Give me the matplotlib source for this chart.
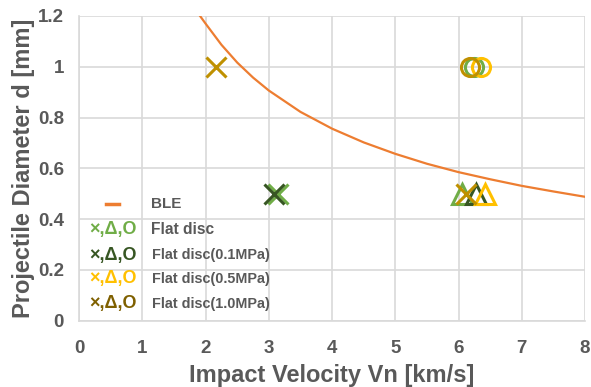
import matplotlib.pyplot as plt

plt.rcParams['font.family'] = ['Liberation Sans', 'DejaVu Sans']

# BLE curve
ble_v = [1.91, 2.0, 2.25, 2.5, 2.75, 3.0, 3.5, 4.0, 4.5, 5.0, 5.5, 6.0, 6.5, 7.0, 7.5, 8.0]
ble_d = [1.20, 1.169, 1.086, 1.016, 0.957, 0.906, 0.822, 0.756, 0.702, 0.657, 0.618, 0.585, 0.557, 0.531, 0.509, 0.488]

# test shots: (velocity, diameter) per condition and marker type
flat_x = [(3.14, 0.5)]
flat_tri = [(6.06, 0.5)]
flat_o = [(6.24, 1.0)]
mpa01_x = [(3.08, 0.5)]
mpa01_tri = [(6.28, 0.5)]
mpa05_tri = [(6.41, 0.5)]
mpa05_o = [(6.35, 1.0)]
mpa10_x = [(2.16, 1.0), (6.12, 0.5)]
mpa10_o = [(6.18, 1.0)]

c_flat = '#70AD47'
c_01 = '#375623'
c_05 = '#FFC000'
c_10 = '#BF9000'
c_10_leg = '#7F6000'
grey = '#595959'

fig, ax = plt.subplots(figsize=(5.91, 3.87), dpi=100)
fig.subplots_adjust(left=0.134, right=0.99, top=0.959, bottom=0.171)

ax.plot(ble_v, ble_d, color='#ED7D31', lw=1.6, zorder=2)

def pts(data, marker, color, size):
    xs = [p[0] for p in data]
    ys = [p[1] for p in data]
    if marker == 'x':
        ax.plot(xs, ys, ls='none', marker='x', ms=size, mew=2.2, color=color, zorder=3)
    else:
        ax.plot(xs, ys, ls='none', marker=marker, ms=size, mew=2.2,
                mfc='none', mec=color, zorder=3)

pts(flat_tri, '^', c_flat, 15)
pts(mpa01_tri, '^', c_01, 15)
pts(mpa05_tri, '^', c_05, 15)
pts(flat_o, 'o', c_flat, 13)
pts(mpa05_o, 'o', c_05, 13)
pts(mpa10_o, 'o', c_10, 13)
pts(flat_x, 'x', c_flat, 15)
pts(mpa01_x, 'x', c_01, 15)
pts(mpa10_x, 'x', c_10, 15)

ax.set_xlim(0, 8)
ax.set_ylim(0, 1.2)
ax.set_xticks(range(0, 9))
ax.set_yticks([0, 0.2, 0.4, 0.6, 0.8, 1.0, 1.2])
ax.set_yticklabels(['0', '0.2', '0.4', '0.6', '0.8', '1', '1.2'])
ax.grid(True, color='#D9D9D9', lw=1.2)
ax.set_axisbelow(True)
for s in ['top', 'right']:
    ax.spines[s].set_visible(False)
for s in ['left', 'bottom']:
    ax.spines[s].set_color('#D9D9D9')
    ax.spines[s].set_linewidth(1.2)
ax.tick_params(length=0, labelsize=13.5, labelcolor=grey)
ax.tick_params(axis='x', pad=14)
ax.tick_params(axis='y', pad=11)
for lab in ax.get_xticklabels() + ax.get_yticklabels():
    lab.set_fontweight('bold')

ax.set_xlabel('Impact Velocity Vn [km/s]', fontsize=17, fontweight='bold', color=grey, labelpad=5)
ax.set_ylabel('Projectile Diameter d [mm]', fontsize=17, fontweight='bold', color=grey, labelpad=2)

# legend drawn as text rows
ax.plot([0.053, 0.079], [0.384, 0.384], transform=ax.transAxes, color='#ED7D31', lw=2.5)
ax.text(0.141, 0.384, 'BLE', transform=ax.transAxes, fontsize=11, fontweight='bold',
        color=grey, va='center')
rows = [('Flat disc', c_flat, 0.298), ('Flat disc(0.1MPa)', c_01, 0.215),
        ('Flat disc(0.5MPa)', c_05, 0.138), ('Flat disc(1.0MPa)', c_10_leg, 0.056)]
for i, (name, col, y) in enumerate(rows):
    ax.text(0.02, y, '×,Δ,O', transform=ax.transAxes, fontsize=13, fontweight='bold',
            color=col, va='center')
    ax.text(0.141 if i == 0 else 0.143, y, name, transform=ax.transAxes,
            fontsize=11.2 if i == 0 else 10.4, fontweight='bold', color=grey, va='center')

fig.savefig('out.png')
